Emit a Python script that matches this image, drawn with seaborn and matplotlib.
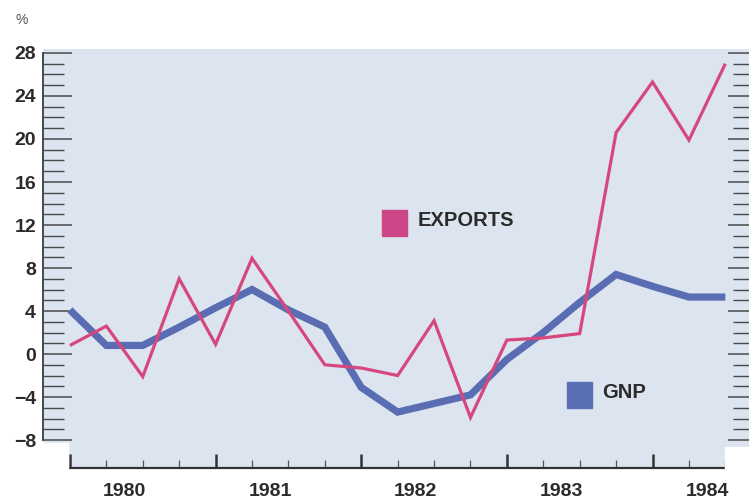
import matplotlib
matplotlib.use("Agg")
import pandas as pd
import seaborn as sns
import matplotlib.pyplot as plt
from matplotlib.patches import Rectangle
from matplotlib.transforms import blended_transform_factory

# quarterly % change, 1980 Q1 .. 1984 Q3
quarters = list(range(19))
exports = [0.8, 2.6, -2.1, 7.0, 0.9, 8.9, 4.0, -1.0, -1.3, -2.0,
           3.1, -5.9, 1.3, 1.5, 1.9, 20.6, 25.3, 19.9, 27.0]
gnp = [4.1, 0.8, 0.8, 2.5, 4.3, 6.0, 4.1, 2.5, -3.1, -5.4,
       -4.6, -3.8, -0.5, 2.0, 4.8, 7.4, 6.3, 5.3, 5.3]
series_names = ["EXPORTS", "GNP"]
years = ["1980", "1981", "1982", "1983", "1984"]
year_pos = [1.5, 5.5, 9.5, 13.5, 17.5]
y_major = list(range(-8, 29, 4))
y_minor = list(range(-8, 29))

df = pd.DataFrame({
    "quarter": quarters * 2,
    "value": gnp + exports,
    "series": ["GNP"] * len(gnp) + ["EXPORTS"] * len(exports),
})

colors = {"EXPORTS": "#d6477e", "GNP": "#5a6db3"}
box_colors = {"EXPORTS": "#cc4688", "GNP": "#5b6fb5"}
widths = {"EXPORTS": 2.3, "GNP": 5.2}
panel = "#dce4f0"
txt = "#2b2b2b"
axis_col = "#4a4a4a"

sns.set_theme(style="white")
plt.rcParams["font.family"] = ["Liberation Sans", "DejaVu Sans"]

fig = plt.figure(figsize=(7.49, 5.0), dpi=100)
ax = fig.add_axes([43 / 749, 1 - 468 / 500, (749 - 43) / 749, (468 - 49) / 500])
ax.set_facecolor(panel)

sns.lineplot(data=df, x="quarter", y="value", hue="series", size="series",
             hue_order=["GNP", "EXPORTS"], palette=colors, sizes=widths,
             legend=False, ax=ax)
for ln in ax.lines:
    ln.set_solid_capstyle("butt")
    ln.set_solid_joinstyle("miter")

ax.set_xlim(-0.74, 18.65)
ax.set_ylim(-10.6, 28.37)
ax.set_xlabel("")
ax.set_ylabel("")

for s in ["top", "right"]:
    ax.spines[s].set_visible(False)
ax.spines["left"].set_bounds(-8, 28)
ax.spines["left"].set_color(axis_col)
ax.spines["left"].set_linewidth(1.4)
ax.spines["bottom"].set_bounds(0, 18)
ax.spines["bottom"].set_color("#333333")
ax.spines["bottom"].set_linewidth(1.6)

# y ticks (left)
ax.set_yticks(y_major)
ax.set_yticks(y_minor, minor=True)
ax.tick_params(axis="y", which="major", direction="in", left=True,
               length=21, width=1.1, color=axis_col, pad=5,
               labelsize=14, labelcolor=txt)
ax.tick_params(axis="y", which="minor", direction="in", left=True,
               length=15, width=1.0, color=axis_col)
for lab in ax.get_yticklabels():
    lab.set_fontweight("bold")

# x ticks: years/quarters
ax.set_xticks([0, 4, 8, 12, 16])
ax.set_xticks(quarters, minor=True)
ax.tick_params(axis="x", which="major", direction="in", bottom=True,
               length=10, width=1.8, color="#333333", labelbottom=False)
ax.tick_params(axis="x", which="minor", direction="in", bottom=True,
               length=6, width=0.9, color="#555555")

trans = blended_transform_factory(ax.transData, ax.transAxes)
for p, yr in zip(year_pos, years):
    ax.text(p, -0.057, yr, transform=trans, ha="center", va="center",
            fontsize=14, fontweight="bold", color=txt)

# right-hand tick marks
ax2 = ax.twinx()
ax2.set_ylim(ax.get_ylim())
ax2.set_yticks(y_major)
ax2.set_yticks(y_minor, minor=True)
ax2.tick_params(axis="y", which="major", direction="in", right=True,
                length=15, width=1.1, color=axis_col, labelright=False)
ax2.tick_params(axis="y", which="minor", direction="in", right=True,
                length=11.5, width=1.0, color=axis_col)
for s in ax2.spines.values():
    s.set_visible(False)

# white corners of the panel
ax.add_patch(Rectangle((0, 0), 0.035, 0.06, transform=ax.transAxes,
                       color="white", zorder=3, clip_on=False))
ax.add_patch(Rectangle((0.966, 0), 0.04, 0.05, transform=ax.transAxes,
                       color="white", zorder=3, clip_on=False))

# inline legend
legend_pos = {"EXPORTS": (0.480, 0.554), "GNP": (0.742, 0.143)}
for name in series_names:
    x0, y0 = legend_pos[name]
    ax.add_patch(Rectangle((x0, y0), 0.0354, 0.062, transform=ax.transAxes,
                           color=box_colors[name], zorder=4))
    ax.text(x0 + 0.05, y0 + 0.036, name, transform=ax.transAxes,
            ha="left", va="center", fontsize=14.5, fontweight="bold",
            color=txt, zorder=4)

fig.text(22 / 749, 1 - 20 / 500, "%", ha="center", va="center",
         fontsize=10, color="#555555")

fig.savefig("out.png", dpi=100)
